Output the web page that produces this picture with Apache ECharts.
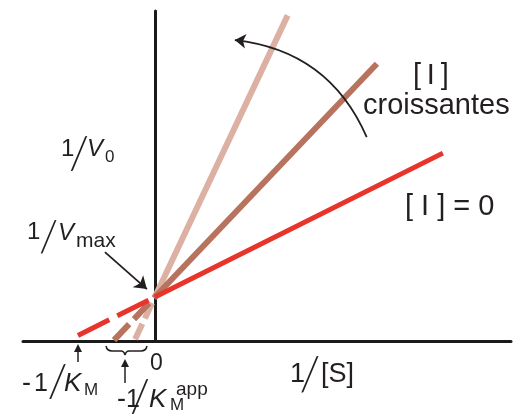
<!DOCTYPE html>
<html>
<head>
<meta charset="utf-8">
<style>
  html, body { margin: 0; padding: 0; background: #fff; }
  #chart { width: 518px; height: 415px; }
</style>
<script src="https://cdn.jsdelivr.net/npm/echarts@6/dist/echarts.min.js"></script>
</head>
<body>
<div id="chart"></div>
<script>
// Lineweaver–Burk plot, competitive inhibition: 1/V0 against 1/[S]
// Units: 1/Vmax = 1 on the vertical axis.

// [I] = 0
const noInhibitorSolid = [[0, 1], [6.55, 4.27]];
const noInhibitorDashed = [[-1.75, 0.125], [0, 1]];
// intermediate [I]
const midInhibitorSolid = [[0, 1], [5.05, 6.3]];
const midInhibitorDashed = [[-0.93, 0.02], [0, 1]];
// highest [I]
const highInhibitorSolid = [[0, 1], [3.02, 7.4]];
const highInhibitorDashed = [[-0.45, 0.04], [0, 1]];

// axis ranges
const xRange = [-3, 8.1];
const yRange = [0, 7.5];

// annotation arrows (data space)
const vmaxPointer = [[-1.136, 2.02], [-0.182, 1.18]];
const increasingArrow = [[1.818, 6.84], [4.818, 4.636]];

const TEXT = '#231f20';
const FONT = '"Liberation Sans", Arial, Helvetica, sans-serif';

function txt(str, x, base, size, italic) {
  return {
    type: 'text', x: x, y: base - 0.3465 * size, z: 10,
    style: {
      text: str, fill: TEXT,
      font: (italic ? 'italic ' : '') + size + 'px ' + FONT,
      align: 'left', verticalAlign: 'middle'
    }
  };
}
function slash(cx, cy, size) {
  return {
    type: 'text', x: cx, y: cy, z: 10,
    style: {
      text: '/', fill: TEXT,
      font: '300 ' + size + 'px Lato, ' + FONT,
      align: 'center', verticalAlign: 'middle'
    }
  };
}
function seg(x1, y1, x2, y2) {
  return { type: 'line', z: 10, shape: { x1: x1, y1: y1, x2: x2, y2: y2 }, style: { stroke: TEXT, lineWidth: 1.5 } };
}
function curve(x1, y1, cx, cy, x2, y2) {
  return { type: 'bezierCurve', z: 10, shape: { x1: x1, y1: y1, cpx1: cx, cpy1: cy, x2: x2, y2: y2 }, style: { stroke: TEXT, lineWidth: 1.5, fill: null } };
}
function upArrow(x, y0, y1) {
  return [
    seg(x, y0, x, y1 + 5),
    { type: 'polygon', z: 10, shape: { points: [[x, y1], [x - 4, y1 + 8], [x + 4, y1 + 8]] }, style: { fill: TEXT } }
  ];
}

const labels = [
  // 1/V0
  txt('1', 61, 158, 24), slash(79, 154, 46), txt('V', 87, 158, 24, true), txt('0', 105, 163, 17),
  // 1/Vmax
  txt('1', 27, 241, 24), slash(48.5, 237, 44), txt('V', 58, 242, 24, true), txt('max', 76, 248, 21),
  // [I] croissantes
  txt('[\u2009I\u2009]', 413, 86, 29), txt('croissantes', 363, 116, 29),
  // [I] = 0
  txt('[ I ] = 0', 405, 217, 29),
  // origin and x title
  txt('0', 150, 372, 23),
  txt('1', 290, 384, 27), slash(310, 375, 48), txt('[S]', 321, 384, 27),
  // -1/KM
  txt('-', 22, 393, 27), txt('1', 34, 393, 25), slash(57.5, 382, 46), txt('K', 64, 393, 26, true), txt('M', 84, 396, 17),
  // -1/KM app
  txt('-', 117, 409, 27), txt('1', 126, 409, 25), slash(140, 397, 46), txt('K', 149, 409, 26, true),
  txt('M', 170, 411, 17), txt('app', 176, 396, 19),
  // brace under the apparent intercepts
  curve(106, 346, 107, 351, 112, 351), seg(112, 351, 121, 351), curve(121, 351, 124, 351, 125, 355),
  curve(125, 355, 126, 351, 129, 351), seg(129, 351, 141, 351), curve(141, 351, 146, 351, 147, 346)
].concat(upArrow(78, 362, 344), upArrow(125, 383, 359));

function lineSeries(name, data, color, width, dash) {
  return {
    name: name, type: 'line', data: data, symbol: 'none', silent: true,
    lineStyle: { color: color, width: width, type: dash || 'solid', cap: 'butt' },
    animation: false
  };
}

const RED = '#e8342b', BROWN = '#b8735f', LIGHT = '#dcb0a2';

const chart = echarts.init(document.getElementById('chart'), null, { renderer: 'canvas' });
chart.setOption({
  animation: false,
  backgroundColor: '#fff',
  grid: { left: 23, right: 7, top: 11, bottom: 74 },
  xAxis: {
    type: 'value', min: xRange[0], max: xRange[1],
    axisLine: { show: true, onZero: true, lineStyle: { color: '#1a1a1a', width: 3 } },
    axisTick: { show: false }, axisLabel: { show: false }, splitLine: { show: false }
  },
  yAxis: {
    type: 'value', min: yRange[0], max: yRange[1],
    axisLine: { show: true, onZero: true, lineStyle: { color: '#1a1a1a', width: 3 } },
    axisTick: { show: false }, axisLabel: { show: false }, splitLine: { show: false }
  },
  series: [
    lineSeries('[I] élevée', highInhibitorSolid, LIGHT, 6),
    lineSeries('[I] élevée (extrapolée)', highInhibitorDashed, LIGHT, 6, [17, 6]),
    lineSeries('[I] moyenne', midInhibitorSolid, BROWN, 6),
    lineSeries('[I] moyenne (extrapolée)', midInhibitorDashed, BROWN, 6, [22, 7]),
    lineSeries('[I] = 0', noInhibitorSolid, RED, 5),
    lineSeries('[I] = 0 (extrapolée)', noInhibitorDashed, RED, 5, [35, 9]),
    {
      type: 'lines', coordinateSystem: 'cartesian2d', silent: true, clip: false, z: 5,
      symbol: ['none', 'arrow'], symbolSize: [9, 12],
      lineStyle: { color: TEXT, width: 1.8, opacity: 1 },
      data: [{ coords: vmaxPointer }]
    },
    {
      type: 'lines', coordinateSystem: 'cartesian2d', silent: true, clip: false, z: 5,
      symbol: ['arrow', 'none'], symbolSize: [11, 14],
      lineStyle: { color: TEXT, width: 1.8, opacity: 1, curveness: 0.29 },
      data: [{ coords: increasingArrow }]
    }
  ],
  graphic: labels
});
</script>
</body>
</html>
